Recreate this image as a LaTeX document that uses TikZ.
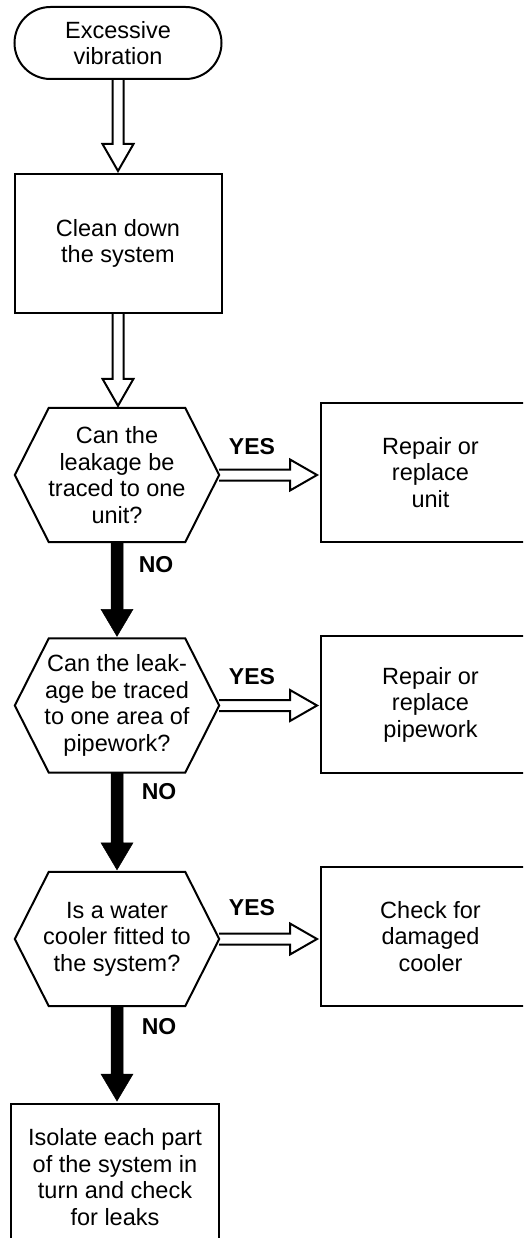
\documentclass[tikz,border=0pt]{standalone}
\usepackage{fontspec}
\setmainfont{Liberation Sans}
\usetikzlibrary{calc,backgrounds}
\tikzset{
  every node/.style={font=\fontsize{23.5}{26.5}\selectfont, align=center},
  frame/.style={draw, line width=2pt, inner sep=0pt},
  term/.style={frame, rounded corners=36pt, minimum width=207pt, minimum height=72pt},
  stepbox/.style={frame, minimum width=207pt, minimum height=139pt},
  sidebox/.style={frame, minimum width=219pt, minimum height=139pt},
  hexnode/.style={inner sep=0pt, minimum width=204pt, minimum height=134pt},
  hexline/.style={line width=2pt, line join=miter},
  lbl/.style={font=\fontsize{23}{26}\selectfont\bfseries},
  hollow/.style={draw, fill=white, line width=2pt, line join=miter},
  blackarrow/.style={fill=black, draw=black, line width=0.5pt, line join=miter},
}
\newcommand\hexdraw[1]{\draw[hexline] (#1.west) -- ([xshift=34pt]#1.north west) -- ([xshift=-34pt]#1.north east) -- (#1.east) -- ([xshift=-34pt]#1.south east) -- ([xshift=34pt]#1.south west) -- cycle;}
\newcommand\hollowdown[2]{\draw[hollow] let \p1=(#1.south), \p2=(#2.north) in (\x1-5.5pt,\y1) -- (\x1-5.5pt,\y2+29pt) -- (\x1-15.5pt,\y2+29pt) -- (\x1,\y2+2pt) -- (\x1+15.5pt,\y2+29pt) -- (\x1+5.5pt,\y2+29pt) -- (\x1+5.5pt,\y1);}
\newcommand\blackdown[2]{\draw[blackarrow] let \p1=(#1.south), \p2=(#2.north) in (\x1-6pt,\y1) -- (\x1-6pt,\y2+29pt) -- (\x1-16pt,\y2+29pt) -- (\x1,\y2+2pt) -- (\x1+16pt,\y2+29pt) -- (\x1+6pt,\y2+29pt) -- (\x1+6pt,\y1) -- cycle;}
\newcommand\hollowright[2]{\draw[hollow] let \p1=(#1.east), \p2=(#2.west) in (\x1,\y1+5.5pt) -- (\x2-30pt,\y1+5.5pt) -- (\x2-30pt,\y1+15.5pt) -- (\x2-3pt,\y1) -- (\x2-30pt,\y1-15.5pt) -- (\x2-30pt,\y1-5.5pt) -- (\x1,\y1-5.5pt);}
\begin{document}
\begin{tikzpicture}[x=1pt,y=-1pt]
\useasboundingbox (0,0) rectangle (523,1238);
\clip (0,0) rectangle (523,1238);

\node[term] (start) at (118,43) {Excessive\\vibration};
\node[stepbox] (clean) at (118,243.5) {Clean down\\the system};

\node[hexnode] (h1) at (117,475) {Can the\\leakage be\\traced to one\\unit?};
\hexdraw{h1}
\node[sidebox] (r1) at (430.5,472.5) {Repair or\\replace\\unit};

\node[hexnode] (h2) at (117,705.5) {Can the leak-\\age be traced\\to one area of\\pipework?};
\hexdraw{h2}
\node[sidebox, minimum height=137pt] (r2) at (430.5,704.5) {Repair or\\replace\\pipework};

\node[hexnode] (h3) at (117,939) {Is a water\\cooler fitted to\\the system?};
\hexdraw{h3}
\node[sidebox] (r3) at (430.5,936.5) {Check for\\damaged\\cooler};

\node[frame, minimum width=208pt, minimum height=146pt] (final) at (115,1177) {Isolate each part\\of the system in\\turn and check\\for leaks};

\node[lbl] (yes1) at (252,447) {YES};
\node[lbl] (yes2) at (252,677) {YES};
\node[lbl] (yes3) at (252,908) {YES};
\node[lbl] (no1) at (156,565) {NO};
\node[lbl] (no2) at (159,792) {NO};
\node[lbl] (no3) at (159,1027) {NO};

\begin{scope}[on background layer]
\hollowdown{start}{clean}
\hollowdown{clean}{h1}
\hollowright{h1}{r1}
\hollowright{h2}{r2}
\hollowright{h3}{r3}
\blackdown{h1}{h2}
\blackdown{h2}{h3}
\blackdown{h3}{final}
\end{scope}
\end{tikzpicture}
\end{document}
